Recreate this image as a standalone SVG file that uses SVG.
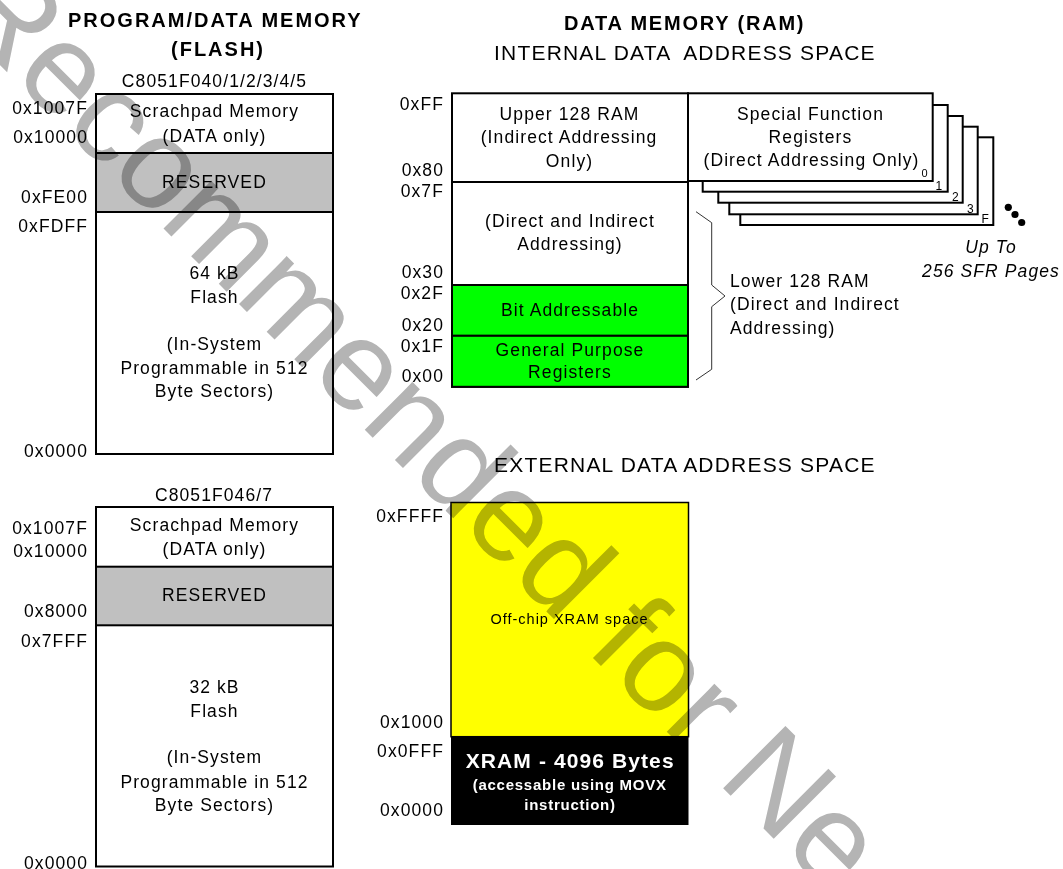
<svg xmlns="http://www.w3.org/2000/svg" width="1063" height="869" viewBox="0 0 1063 869">
<style>
text{font-family:"Liberation Sans",Arial,Helvetica,sans-serif;fill:#000}
.t{font-size:17.5px;letter-spacing:1.1px}
.c{text-anchor:middle}
.r{text-anchor:end}
.hb{font-size:20px;font-weight:bold;letter-spacing:2px}
.h{font-size:21px;letter-spacing:1.2px}
.box{fill:#fff;stroke:#000;stroke-width:2}
.res{fill:#c0c0c0;stroke:#000;stroke-width:2}
.grn{fill:#00ff00;stroke:#000;stroke-width:2}
.sub{font-size:12px}
.it{font-style:italic}
.wb{fill:#fff;font-weight:bold}
.wm{font-size:128px;fill:#b4b4b4;mix-blend-mode:multiply}
</style>

<g id="titles">
<text class="hb" x="68" y="27">PROGRAM/DATA MEMORY</text>
<text class="hb c" x="218" y="56">(FLASH)</text>
<text style="font-size:20px;font-weight:bold;letter-spacing:1.8px" x="564" y="30">DATA MEMORY (RAM)</text>
<text class="h" x="494" y="60" xml:space="preserve">INTERNAL DATA  ADDRESS SPACE</text>
<text class="h" x="494" y="472">EXTERNAL DATA ADDRESS SPACE</text>
</g>

<g id="flash64">
<text class="t c" x="214.5" y="87">C8051F040/1/2/3/4/5</text>
<rect class="box" x="96" y="94" width="237" height="360"/>
<rect class="res" x="96" y="153" width="237" height="59"/>
<text class="t c" x="214.5" y="117">Scrachpad Memory</text>
<text class="t c" x="214.5" y="142">(DATA only)</text>
<text class="t c" x="214.5" y="188">RESERVED</text>
<text class="t c" x="214.5" y="279">64 kB</text>
<text class="t c" x="214.5" y="303">Flash</text>
<text class="t c" x="214.5" y="350">(In-System</text>
<text class="t c" x="214.5" y="374">Programmable in 512</text>
<text class="t c" x="214.5" y="397">Byte Sectors)</text>
<text class="t r" x="88" y="114">0x1007F</text>
<text class="t r" x="88" y="143">0x10000</text>
<text class="t r" x="88" y="203">0xFE00</text>
<text class="t r" x="88" y="232">0xFDFF</text>
<text class="t r" x="88" y="457">0x0000</text>
</g>

<g id="flash32">
<text class="t c" x="214" y="500.5">C8051F046/7</text>
<rect class="box" x="96" y="507" width="237" height="359.5"/>
<rect class="res" x="96" y="566.7" width="237" height="58.6"/>
<text class="t c" x="214.5" y="530.7">Scrachpad Memory</text>
<text class="t c" x="214.5" y="555">(DATA only)</text>
<text class="t c" x="214.5" y="600.7">RESERVED</text>
<text class="t c" x="214.5" y="692.7">32 kB</text>
<text class="t c" x="214.5" y="716.7">Flash</text>
<text class="t c" x="214.5" y="763">(In-System</text>
<text class="t c" x="214.5" y="788">Programmable in 512</text>
<text class="t c" x="214.5" y="810.7">Byte Sectors)</text>
<text class="t r" x="88" y="534">0x1007F</text>
<text class="t r" x="88" y="557">0x10000</text>
<text class="t r" x="88" y="617">0x8000</text>
<text class="t r" x="88" y="647">0x7FFF</text>
<text class="t r" x="88" y="868.5">0x0000</text>
</g>

<g id="sfr-pages">
<rect class="box" x="740.3" y="137.3" width="253" height="87.7"/>
<rect class="box" x="729.3" y="126.7" width="248.4" height="87.6"/>
<rect class="box" x="718.3" y="116" width="244.4" height="86.7"/>
<rect class="box" x="702.7" y="105" width="245" height="86.7"/>
<rect class="box" x="688" y="93.3" width="244.7" height="87.7"/>
<text class="t c" x="810.5" y="120">Special Function</text>
<text class="t c" x="810.5" y="143.3">Registers</text>
<text class="t c" x="811.5" y="166">(Direct Addressing Only)</text>
<text class="sub" style="font-size:11px" x="921.5" y="176.5">0</text>
<text class="sub" x="935.5" y="189.5">1</text>
<text class="sub" x="952" y="200.8">2</text>
<text class="sub" x="967" y="212.8">3</text>
<text class="sub" x="981.5" y="223">F</text>
<circle cx="1008.3" cy="207.3" r="3.6"/>
<circle cx="1015" cy="214.5" r="3.6"/>
<circle cx="1021.7" cy="222.5" r="3.6"/>
<text class="t c it" x="991" y="253.3">Up To</text>
<text class="t c it" x="991" y="276.7">256 SFR Pages</text>
</g>

<g id="ram">
<rect class="box" x="452" y="93.3" width="236" height="293.5"/>
<line x1="452" y1="182" x2="688" y2="182" stroke="#000" stroke-width="2"/>
<rect class="grn" x="452" y="285" width="236" height="50.8"/>
<rect class="grn" x="452" y="335.8" width="236" height="51"/>
<text class="t c" x="569.5" y="120">Upper 128 RAM</text>
<text class="t c" x="569" y="143.3">(Indirect Addressing</text>
<text class="t c" x="569.5" y="166.7">Only)</text>
<text class="t c" x="570" y="226.7">(Direct and Indirect</text>
<text class="t c" x="570" y="250">Addressing)</text>
<text class="t c" x="570" y="316">Bit Addressable</text>
<text class="t c" x="570" y="356">General Purpose</text>
<text class="t c" x="570" y="378.3">Registers</text>
<text class="t r" x="444" y="110">0xFF</text>
<text class="t r" x="444" y="176">0x80</text>
<text class="t r" x="444" y="197">0x7F</text>
<text class="t r" x="444" y="278.3">0x30</text>
<text class="t r" x="444" y="299.3">0x2F</text>
<text class="t r" x="444" y="330.7">0x20</text>
<text class="t r" x="444" y="351.7">0x1F</text>
<text class="t r" x="444" y="381.7">0x00</text>
</g>

<g id="connectors">
<polyline points="696,211.7 711.7,222.7 711.7,285 725,296 711.7,306.7 711.7,369.3 696,380" fill="none" stroke="#333" stroke-width="1"/>
</g>

<g id="lower128">
<text class="t" x="730" y="286.7">Lower 128 RAM</text>
<text class="t" x="730" y="310">(Direct and Indirect</text>
<text class="t" x="730" y="334">Addressing)</text>
</g>

<g id="xram">
<rect x="451" y="502.5" width="237.5" height="234.2" fill="#ffff00" stroke="#000" stroke-width="1.5"/>
<rect x="451" y="736.7" width="237.5" height="88.3" fill="#000"/>
<text style="font-size:14.5px;letter-spacing:1px" class="c" x="569.5" y="624.3">Off-chip XRAM space</text>
<text class="wb c" style="font-size:21px;letter-spacing:1.1px" x="570.2" y="768.3">XRAM - 4096 Bytes</text>
<text class="wb c" style="font-size:15px;letter-spacing:0.75px" x="569.7" y="790">(accessable using MOVX</text>
<text class="wb c" style="font-size:15px;letter-spacing:0.75px" x="570" y="810">instruction)</text>
<text class="t r" x="444" y="521.7">0xFFFF</text>
<text class="t r" x="444" y="728.3">0x1000</text>
<text class="t r" x="444" y="757.3">0x0FFF</text>
<text class="t r" x="444" y="815.7">0x0000</text>
</g>

<g id="watermark">
<text class="wm" transform="translate(-54 11) rotate(45)" x="0" y="0">Recommended for Ne</text>
</g>
</svg>
